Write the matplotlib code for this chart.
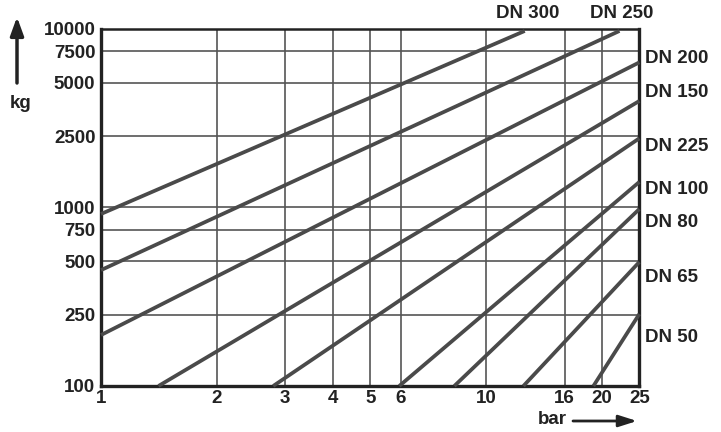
import numpy as np
import matplotlib
matplotlib.use("Agg")
import matplotlib.pyplot as plt
from matplotlib.ticker import FixedLocator, NullLocator

plt.rcParams['font.family'] = ['Liberation Sans', 'DejaVu Sans']
plt.rcParams['font.weight'] = 'bold'

# line endpoints (bar, kg)
names = ["DN 300", "DN 250", "DN 200", "DN 150", "DN 225", "DN 100", "DN 80", "DN 65", "DN 50"]
bar_start = [1.0, 1.0, 1.0, 1.41, 2.80, 5.95, 8.27, 12.5, 19.0]
bar_end = [12.6, 22.2, 25.0, 25.0, 25.0, 25.0, 25.0, 25.0, 25.0]
kg_start = [920, 446, 193, 100, 100, 100, 100, 100, 100]
kg_end = [9750, 9750, 6500, 3950, 2440, 1390, 980, 495, 253]

x_ticks = [1, 2, 3, 4, 5, 6, 10, 16, 20, 25]
y_ticks = [100, 250, 500, 750, 1000, 2500, 5000, 7500, 10000]

# label positions (right side labels: y in kg; top labels: x in bar)
right_labels = ["DN 200", "DN 150", "DN 225", "DN 100", "DN 80", "DN 65", "DN 50"]
right_label_kg = [6790, 4380, 2183, 1269, 819, 403, 188]
top_labels = ["DN 300", "DN 250"]
top_label_bar = [12.8, 22.5]

FS = 13.5
INK = '#222222'

fig = plt.figure(figsize=(7.21, 4.32), dpi=100)
ax = fig.add_axes([0.1401, 0.1065, 0.7466, 0.8264])
ax.set_xscale('log')
ax.set_yscale('log')
ax.set_xlim(1, 25)
ax.set_ylim(100, 10000)

ax.xaxis.set_major_locator(FixedLocator(x_ticks))
ax.yaxis.set_major_locator(FixedLocator(y_ticks))
ax.xaxis.set_minor_locator(NullLocator())
ax.yaxis.set_minor_locator(NullLocator())
ax.set_xticklabels([str(v) for v in x_ticks])
ax.set_yticklabels([str(v) for v in y_ticks])
ax.tick_params(length=0, labelsize=FS, colors=INK, pad=3)
ax.tick_params(axis='y', pad=4)
for lab in ax.get_xticklabels() + ax.get_yticklabels():
    lab.set_fontweight('bold')

ax.grid(True, color='#555555', linewidth=1.2)
for s in ['left', 'bottom', 'right']:
    ax.spines[s].set_linewidth(2.4)
ax.spines['top'].set_linewidth(1.8)
for s in ax.spines.values():
    s.set_color(INK)

for x0, x1, y0, y1 in zip(bar_start, bar_end, kg_start, kg_end):
    ax.plot([x0, x1], [y0, y1], color='#4a4a4a', linewidth=2.7,
            solid_capstyle='butt', clip_on=False, zorder=3)

for name, kg in zip(right_labels, right_label_kg):
    ax.text(1.01, kg, name, transform=ax.get_yaxis_transform(),
            fontsize=FS, fontweight='bold', color=INK,
            ha='left', va='center')
for name, b in zip(top_labels, top_label_bar):
    ax.text(b, 1.02, name, transform=ax.get_xaxis_transform(),
            fontsize=FS, fontweight='bold', color=INK,
            ha='center', va='bottom')

# axis unit labels with arrows
fig.text(21 / 721, 1 - 104 / 432, "kg", fontsize=FS, fontweight='bold',
         color=INK, ha='center', va='center')
fig.text(552 / 721, 1 - 419 / 432, "bar", fontsize=FS, fontweight='bold',
         color=INK, ha='center', va='center')
ax.annotate("", xy=(17 / 721, 1 - 17 / 432), xytext=(17 / 721, 1 - 83 / 432),
            xycoords='figure fraction', textcoords='figure fraction',
            arrowprops=dict(arrowstyle='-|>,head_length=1.1,head_width=0.4',
                            color=INK, lw=2.5, shrinkA=0, shrinkB=0))
ax.annotate("", xy=(637 / 721, 1 - 421 / 432), xytext=(573 / 721, 1 - 421 / 432),
            xycoords='figure fraction', textcoords='figure fraction',
            arrowprops=dict(arrowstyle='-|>,head_length=1.1,head_width=0.35',
                            color=INK, lw=2.0, shrinkA=0, shrinkB=0))

fig.savefig("out.png", dpi=100)
